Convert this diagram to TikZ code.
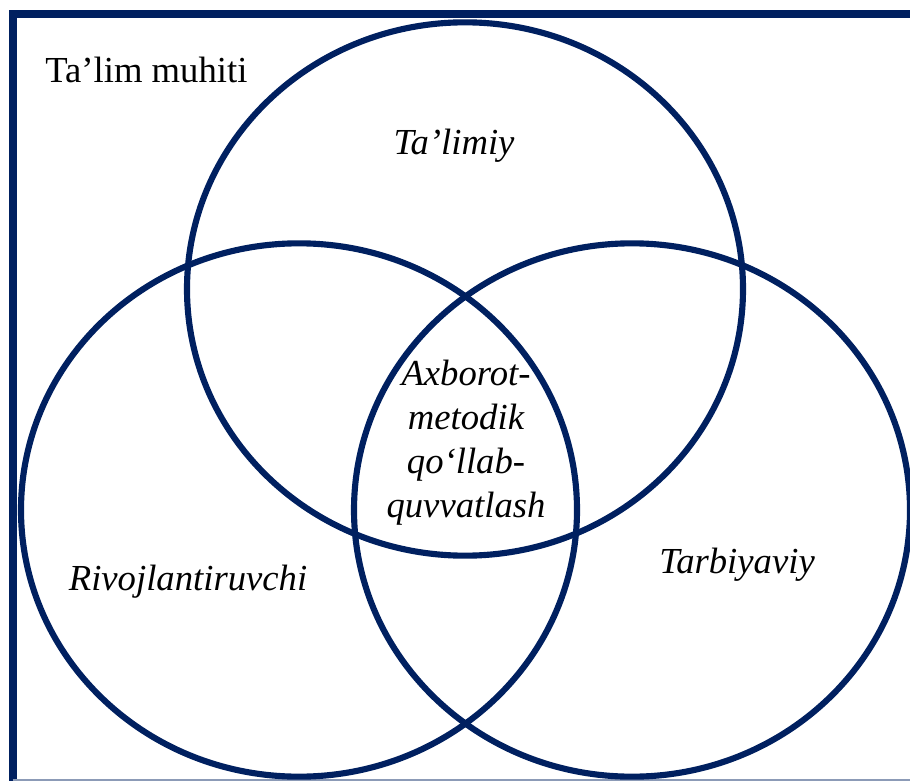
\documentclass[tikz,border=0pt]{standalone}
\usepackage{fontspec}
\setmainfont{Liberation Serif}
\usepackage{tikz}
\usetikzlibrary{positioning}
\usetikzlibrary{shapes.geometric}
\definecolor{navy}{HTML}{002060}

\begin{document}
\begin{tikzpicture}[
    			x = 0.75pt, y = -0.75pt,
    			frame/.style = {draw = navy, line width = 6pt},
    			ring/.style = {draw = navy, line width = 4.6pt, shape = ellipse, minimum width = 417pt, minimum height = 400pt, inner sep = 0pt},
    			every node/.style = {font = \fontsize{27.5}{33}\selectfont},
    			part/.style = {font = \fontsize{27.5}{33}\selectfont\itshape, anchor = base}
  			]
  				\useasboundingbox (0,0) rectangle (910,781);

  				% Frame
  				\draw[frame] (12.5,785) -- (12.5,14.5) -- (915,14.5);
  				\draw[navy!45, line width = 1pt] (12.5,780) -- (910,780);

  				% Circles
  				\node[ring] (Talim) at (465,289) {};
  				\node[ring] (Rivoj) at (299,510) {};
  				\node[ring] (Tarb)  at (632,510) {};

  				% Labels
  				\node[anchor = base west, inner sep = 0pt] (Muhit) at (45,83) {Ta’lim muhiti};
  				\node[part] (TalimL) at (454,155) {Ta’limiy};
  				\node[part] (RivojL) at (188,590) {Rivojlantiruvchi};
  				\node[part] (TarbL)  at (737,573) {Tarbiyaviy};
  				\node[part, align = center] (Axborot) at (466,517)
  					{Axborot-\\metodik\\qo‘llab-\\quvvatlash};
			\end{tikzpicture}
\end{document}
